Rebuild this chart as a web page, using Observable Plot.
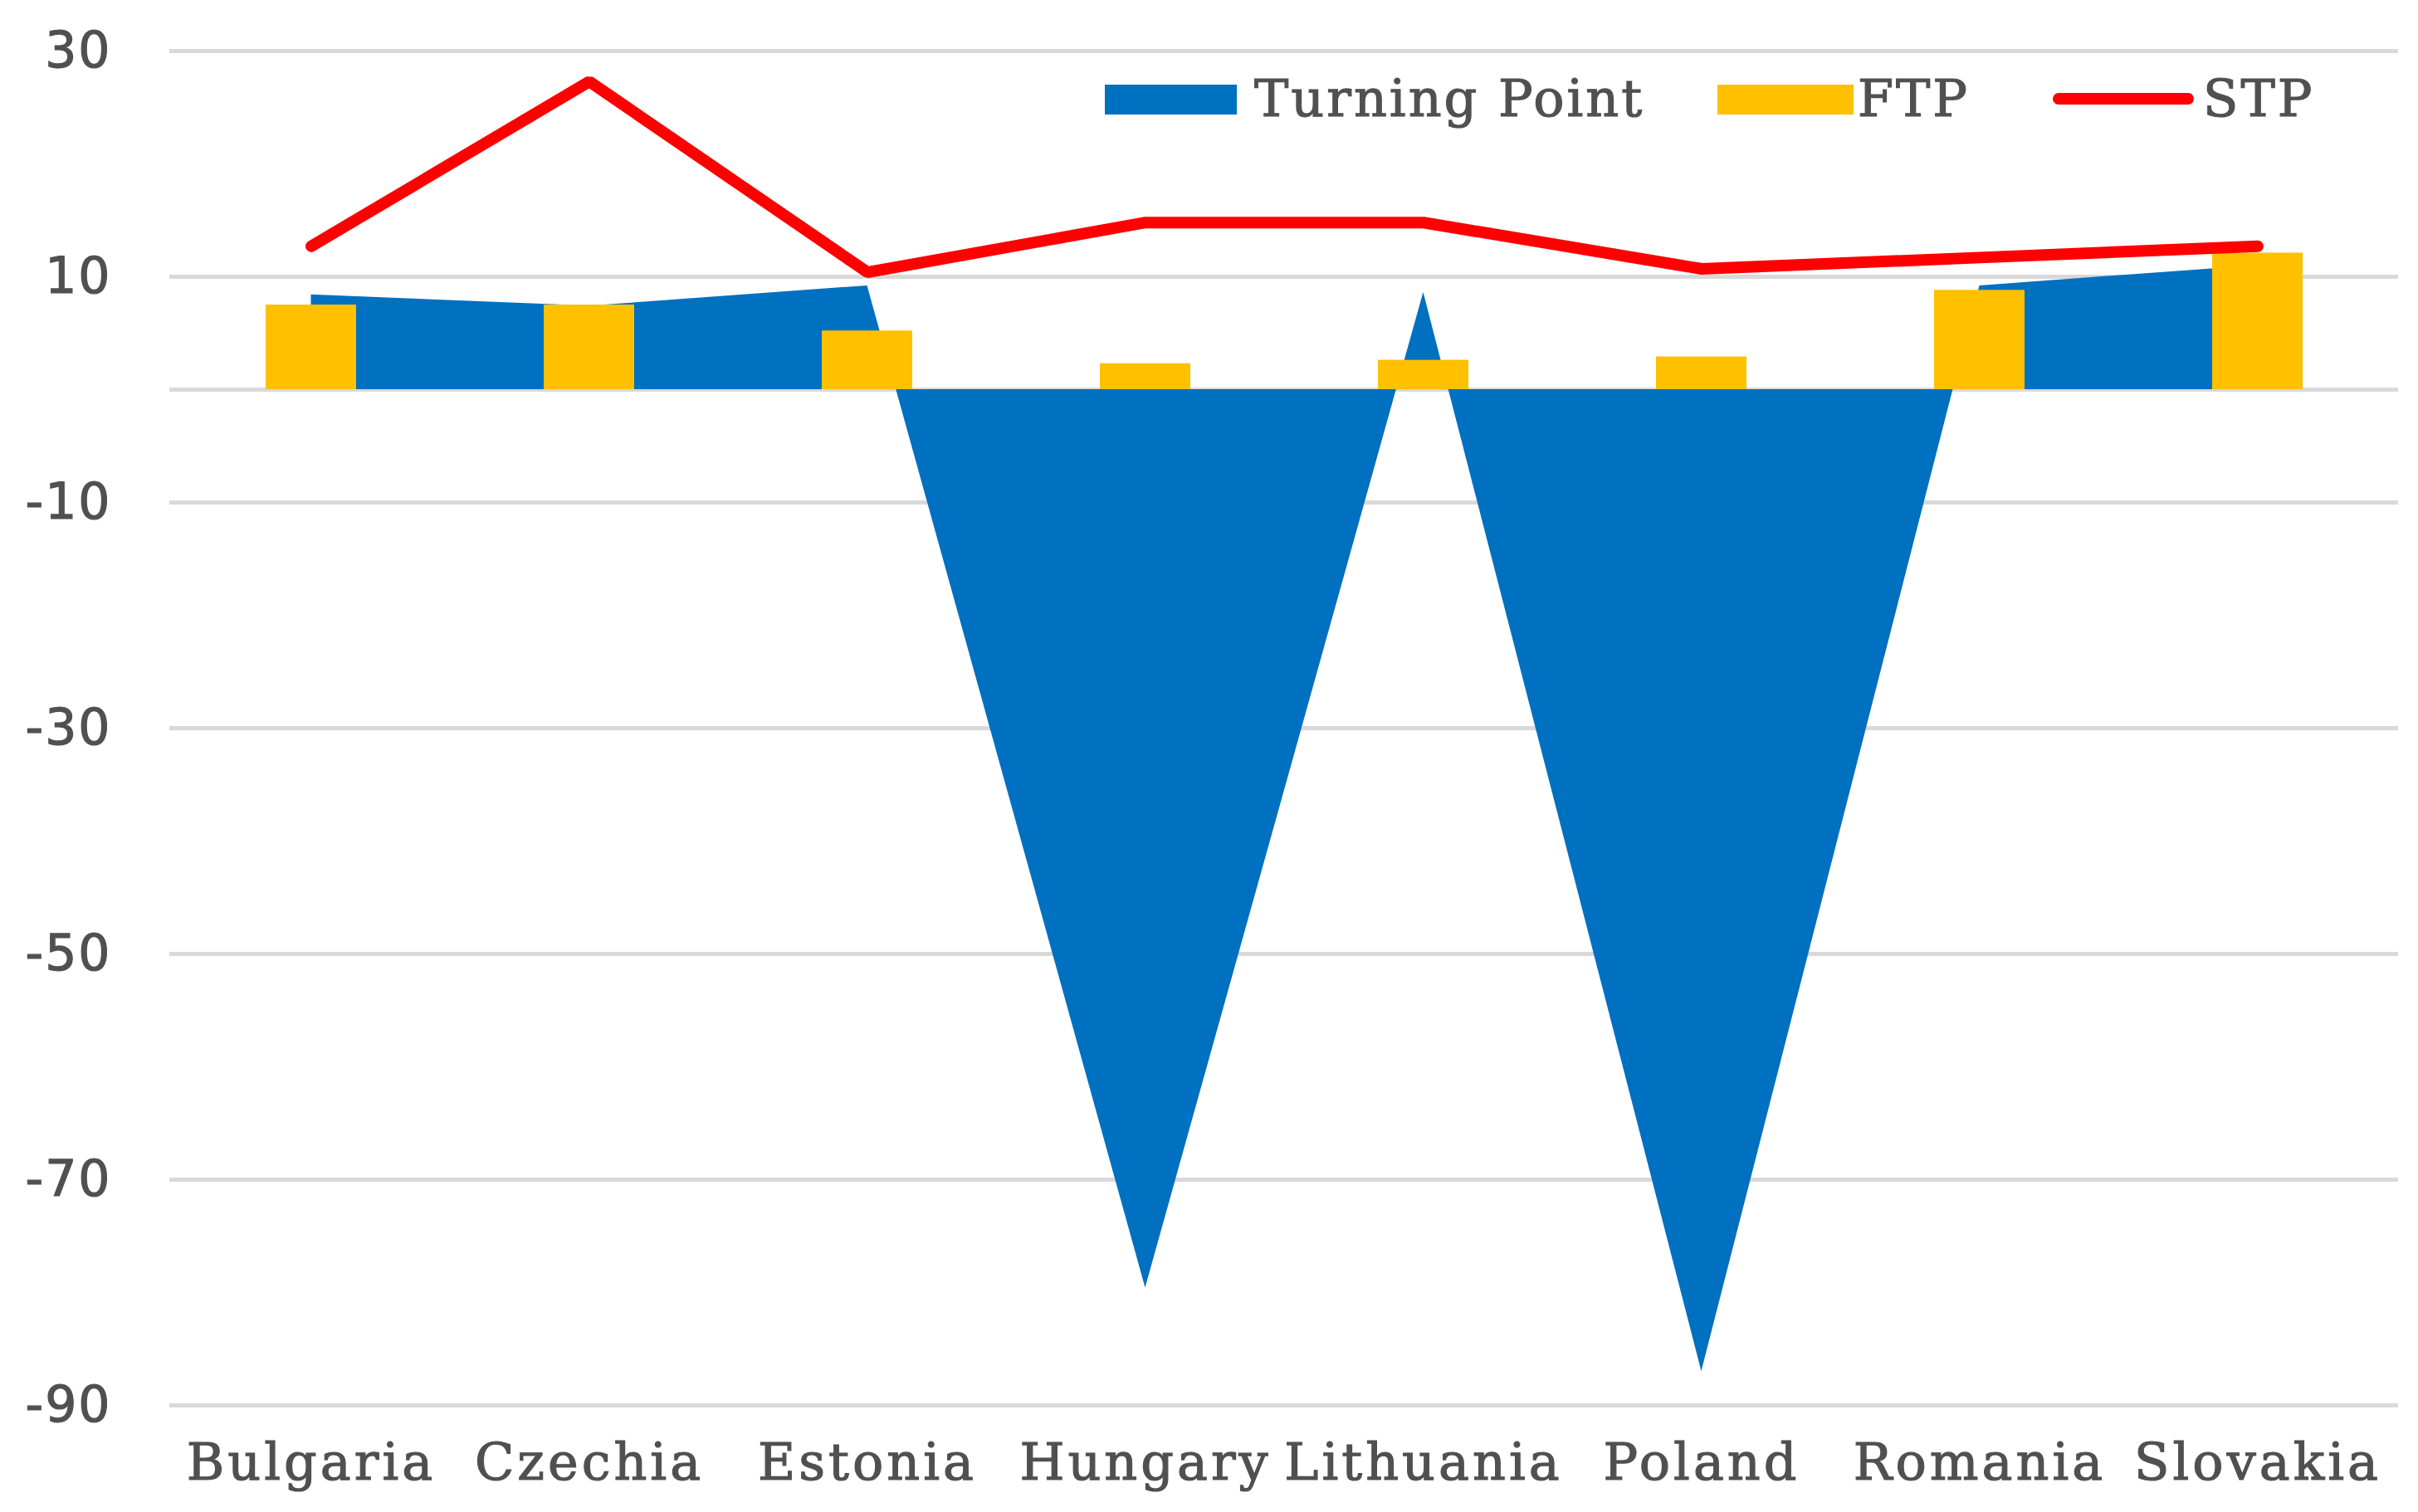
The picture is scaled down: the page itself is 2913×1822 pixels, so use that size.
<!DOCTYPE html>
<html>
<head>
<meta charset="utf-8">
<script src="https://cdn.jsdelivr.net/npm/d3@7"></script>
<script src="https://cdn.jsdelivr.net/npm/@observablehq/plot@0.6"></script>
<style>
  html, body { margin: 0; padding: 0; background: #ffffff; }
  #wrap { position: relative; width: 2913px; height: 1822px; overflow: hidden; }
  #legend { position: absolute; left: 0; top: 0; }
  g[aria-label="y-axis tick label"] text { font-family: "DejaVu Sans", "Liberation Sans", sans-serif; letter-spacing: 2px; stroke: #505050; stroke-width: 1.2px; }
  g[aria-label="x-axis tick label"] text { font-family: "DejaVu Serif", "Liberation Serif", serif; letter-spacing: 4px; stroke: #505050; stroke-width: 1.2px; }
</style>
</head>
<body>
<div id="wrap"></div>
<script>
const countries = ["Bulgaria", "Czechia", "Estonia", "Hungary", "Lithuania", "Poland", "Romania", "Slovakia"];
const turningPoint = [8.4, 7.4, 9.2, -79.6, 8.6, -87.0, 9.2, 11.0];
const ftp = [7.5, 7.5, 5.2, 2.3, 2.6, 2.9, 8.8, 12.1];
const stp = [12.7, 27.3, 10.4, 14.8, 14.8, 10.7, 11.7, 12.7];
const yTickLabels = [30, 10, -10, -30, -50, -70, -90];
const gridValues = [30, 10, 0, -10, -30, -50, -70, -90];
const seriesNames = ["Turning Point", "FTP", "STP"];

const table = countries.map((c, i) => ({country: c, tp: turningPoint[i], ftp: ftp[i], stp: stp[i]}));

const W = 2913, H = 1822;
const chart = Plot.plot({
  width: W,
  height: H,
  marginLeft: 204,
  marginRight: 24,
  marginTop: 61,
  marginBottom: 129,
  style: {background: "#ffffff", color: "#505050", overflow: "visible"},
  x: {type: "band", domain: countries, padding: 0},
  y: {domain: [-90, 30]},
  marks: [
    Plot.ruleY(gridValues, {stroke: "#d9d9d9", strokeWidth: 5}),
    Plot.areaY(table, {x: "country", y: "tp", fill: "#0070C0", curve: "linear"}),
    Plot.barY(table, {x: "country", y: "ftp", fill: "#FFC000", insetLeft: 113, insetRight: 113}),
    Plot.lineY(table, {x: "country", y: "stp", stroke: "#FF0000", strokeWidth: 14, strokeLinecap: "round", strokeLinejoin: "miter"}),
    Plot.axisY({ticks: yTickLabels, tickSize: 0, tickPadding: 70, tickFormat: d => String(d), fontSize: 60, fill: "#505050"}),
    Plot.axisX({tickSize: 0, tickPadding: 45, fontSize: 62, fill: "#505050", label: null})
  ]
});
const wrap = document.getElementById("wrap");
wrap.appendChild(chart);

// legend overlay
const ns = "http://www.w3.org/2000/svg";
const lg = document.createElementNS(ns, "svg");
lg.setAttribute("id", "legend");
lg.setAttribute("width", W);
lg.setAttribute("height", 220);
const items = [
  {kind: "rect", color: "#0070C0", sx: 1331, sw: 159, tx: 1511},
  {kind: "rect", color: "#FFC000", sx: 2069, sw: 164, tx: 2238},
  {kind: "line", color: "#FF0000", sx: 2473, sw: 170, tx: 2654}
];
items.forEach((it, i) => {
  if (it.kind === "rect") {
    const r = document.createElementNS(ns, "rect");
    r.setAttribute("x", it.sx); r.setAttribute("y", 102);
    r.setAttribute("width", it.sw); r.setAttribute("height", 36);
    r.setAttribute("fill", it.color);
    lg.appendChild(r);
  } else {
    const l = document.createElementNS(ns, "line");
    l.setAttribute("x1", it.sx + 7); l.setAttribute("x2", it.sx + it.sw - 7);
    l.setAttribute("y1", 119); l.setAttribute("y2", 119);
    l.setAttribute("stroke", it.color); l.setAttribute("stroke-width", 14);
    l.setAttribute("stroke-linecap", "round");
    lg.appendChild(l);
  }
  const t = document.createElementNS(ns, "text");
  t.setAttribute("x", it.tx); t.setAttribute("y", 140);
  t.setAttribute("fill", "#505050");
  t.setAttribute("stroke", "#505050");
  t.setAttribute("stroke-width", "1.2");
  t.setAttribute("font-family", "DejaVu Serif, Liberation Serif, serif");
  t.setAttribute("font-size", 62);
  t.setAttribute("letter-spacing", "3px");
  t.textContent = seriesNames[i];
  lg.appendChild(t);
});
wrap.appendChild(lg);
</script>
</body>
</html>
